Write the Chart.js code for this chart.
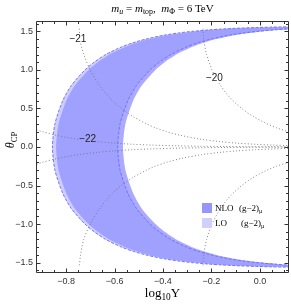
<!DOCTYPE html>
<html><head><meta charset="utf-8">
<script src="https://cdn.jsdelivr.net/npm/chart.js@4.4.1/dist/chart.umd.min.js"></script>
<style>
html,body{margin:0;padding:0;background:#fff;}
#wrap{position:relative;width:291px;height:304px;overflow:hidden;}
canvas{position:absolute;left:0;top:0;}
.t{position:absolute;font-family:'Liberation Serif','DejaVu Serif',serif;color:#000;white-space:nowrap;line-height:1;}
.s{font-size:72%;position:relative;top:0.3em;}
.sw{position:absolute;width:10px;height:10px;}
</style></head><body>
<div id="wrap">
<canvas id="c" width="291" height="304"></canvas>
<div class="t" style="left:36px;width:253px;top:3px;text-align:center;font-size:11px;"><i>m</i><span class="s"><i>u</i></span> = <i>m</i><span class="s">top</span>,&nbsp; <i>m</i><span class="s">Φ</span> = 6 TeV</div>
<div class="t" style="left:36px;width:253px;top:286px;text-align:center;font-size:13px;">log<span class="s">10</span>Y</div>
<div class="t" style="left:-10px;width:40px;top:134px;text-align:center;font-size:12px;transform:rotate(-90deg);"><i>θ</i><span class="s">CP</span></div>
<div class="sw" style="left:202px;top:203px;background:rgb(150,150,250);"></div>
<div class="t" style="left:215px;top:204px;font-size:9px;">NLO</div>
<div class="t" style="left:239px;top:204px;font-size:9px;">(g−2)<span class="s">μ</span></div>
<div class="sw" style="left:202px;top:218px;background:rgb(208,208,255);"></div>
<div class="t" style="left:215px;top:219px;font-size:9px;">LO</div>
<div class="t" style="left:241px;top:219px;font-size:9px;">(g−2)<span class="s">μ</span></div>
</div>
<script>
// ---- data (log10 Y on x, theta_CP on y) ----
const thetaBand = [1.56,1.555,1.55,1.54,1.53,1.52,1.5,1.48,1.45,1.4,1.35,1.3,1.2,1.1,1.0,0.8,0.6,0.3,0,-0.3,-0.6,-0.8,-1.0,-1.1,-1.2,-1.3,-1.35,-1.4,-1.45,-1.48,-1.5,-1.52,-1.53,-1.54,-1.55,-1.555,-1.56];
const nloOuter = [0.142,0.060,0.000,-0.085,-0.146,-0.194,-0.266,-0.320,-0.382,-0.456,-0.511,-0.555,-0.621,-0.669,-0.707,-0.763,-0.799,-0.831,-0.841,-0.831,-0.799,-0.763,-0.707,-0.669,-0.621,-0.555,-0.511,-0.456,-0.382,-0.320,-0.266,-0.194,-0.146,-0.085,0.000,0.060,0.142];
const nloInner = [0.418,0.336,0.276,0.191,0.130,0.082,0.010,-0.044,-0.106,-0.180,-0.235,-0.279,-0.345,-0.393,-0.431,-0.487,-0.523,-0.555,-0.565,-0.555,-0.523,-0.487,-0.431,-0.393,-0.345,-0.279,-0.235,-0.180,-0.106,-0.044,0.010,0.082,0.130,0.191,0.276,0.336,0.418];
const loOuter = [0.127,0.045,-0.015,-0.100,-0.161,-0.209,-0.281,-0.335,-0.397,-0.471,-0.526,-0.570,-0.636,-0.684,-0.722,-0.778,-0.814,-0.846,-0.856,-0.846,-0.814,-0.778,-0.722,-0.684,-0.636,-0.570,-0.526,-0.471,-0.397,-0.335,-0.281,-0.209,-0.161,-0.100,-0.015,0.045,0.127];
const loInner = [0.396,0.314,0.254,0.169,0.108,0.060,-0.012,-0.066,-0.128,-0.202,-0.257,-0.301,-0.367,-0.415,-0.453,-0.509,-0.545,-0.577,-0.587,-0.577,-0.545,-0.509,-0.453,-0.415,-0.367,-0.301,-0.257,-0.202,-0.128,-0.066,-0.012,0.060,0.108,0.169,0.254,0.314,0.396];

// contour lines (null = break for label)
const c21UpTheta = [1.535,1.44,1.39,1.34,1.2,1.0,0.8,0.6,0.5,0.4,0.3,0.25,0.2,0.15,0.1,0.07,0.05,0.035,0.025,0.018];
const c21UpLogY  = [-0.745,-0.744,null,-0.740,-0.727,-0.700,-0.662,-0.608,-0.571,-0.526,-0.468,-0.432,-0.386,-0.326,-0.242,-0.165,-0.094,-0.017,0.056,0.127];
const c21LoTheta = [-1.535,-1.4,-1.2,-1.0,-0.8,-0.6,-0.5,-0.4,-0.3,-0.25,-0.2,-0.15,-0.1,-0.07,-0.05,-0.035,-0.025,-0.018];
const c21LoLogY  = [-0.745,-0.740,-0.727,-0.700,-0.662,-0.608,-0.571,-0.526,-0.468,-0.432,-0.386,-0.326,-0.242,-0.165,-0.094,-0.017,0.056,0.127];
const c22UpTheta = [0.25,0.2,0.15,0.12,0.0956,0.085,0.0724,0.05,0.035,0.025,0.015,0.01,0.006,0.004,0.0025,0.0018];
const c22UpLogY  = [-0.947,-0.899,-0.837,-0.789,-0.740,null,-0.680,-0.599,-0.522,-0.449,-0.338,-0.250,-0.139,-0.051,0.051,0.122];
const c22LoTheta = [-0.25,-0.2,-0.15,-0.12,-0.1,-0.07,-0.05,-0.035,-0.025,-0.015,-0.01,-0.006,-0.004,-0.0025,-0.0018];
const c22LoLogY  = [-0.947,-0.899,-0.837,-0.789,-0.750,-0.672,-0.599,-0.522,-0.449,-0.338,-0.250,-0.139,-0.051,0.051,0.122];
const c20UpTheta = [1.535,1.4,1.2,1.0,0.96,0.9,0.83,0.7,0.6,0.5,0.4,0.3,0.25,0.2,0.19];
const c20UpLogY  = [-0.235,-0.232,-0.220,-0.198,-0.192,null,-0.169,-0.140,-0.111,-0.075,-0.030,0.030,0.068,0.116,0.127];
const c20LoTheta = [-1.535,-1.4,-1.2,-1.0,-0.8,-0.7,-0.6,-0.5,-0.4,-0.3,-0.25,-0.2,-0.19];
const c20LoLogY  = [-0.235,-0.232,-0.220,-0.198,-0.163,-0.140,-0.111,-0.075,-0.030,0.030,0.068,0.116,0.127];

const contourLabels = ['−21','−22','−20'];
const contourLabelLogY = [-0.751,-0.711,-0.188];
const contourLabelTheta = [1.393,0.106,0.896];

const xMajor = [-0.8,-0.6,-0.4,-0.2,0.0];
const xMinor = [-0.9,-0.85,-0.75,-0.7,-0.65,-0.55,-0.5,-0.45,-0.35,-0.3,-0.25,-0.15,-0.1,-0.05,0.05,0.1];
const yMajor = [-1.5,-1.0,-0.5,0.0,0.5,1.0,1.5];
const yMinor = [-1.6,-1.4,-1.3,-1.2,-1.1,-0.9,-0.8,-0.7,-0.6,-0.4,-0.3,-0.2,-0.1,0.1,0.2,0.3,0.4,0.6,0.7,0.8,0.9,1.1,1.2,1.3,1.4,1.6];

// ---- build ----
function pts(xs, ys){ return xs.map((x,i)=>({x: x, y: ys[i]})); }
function polygon(outer, inner){ return pts(outer, thetaBand).concat(pts(inner, thetaBand).reverse()); }
const fmt = v => (Math.abs(v) < 1e-9 ? '0.0' : v.toFixed(1).replace('-', '−'));

const dotted = {showLine:true, fill:false, borderColor:'rgba(120,120,120,0.9)', borderWidth:1, borderDash:[1,2.2], pointRadius:0, tension:0.3, spanGaps:false, order:1};

const frameTicks = {
  id:'frameTicks',
  afterDraw(chart){
    const {ctx, chartArea:a, scales:{x, y}} = chart;
    ctx.save();
    ctx.strokeStyle = '#333'; ctx.lineWidth = 1;
    ctx.beginPath();
    const L = a.left + 0.5, R = a.right - 0.5, T = a.top + 0.5, B = a.bottom - 0.5;
    ctx.rect(L, T, R - L, B - T);
    const vt = (vals, len) => vals.forEach(v => { const p = Math.round(x.getPixelForValue(v)) + 0.5; ctx.moveTo(p, B); ctx.lineTo(p, B - len); ctx.moveTo(p, T); ctx.lineTo(p, T + len); });
    const ht = (vals, len) => vals.forEach(v => { const p = Math.round(y.getPixelForValue(v)) + 0.5; ctx.moveTo(L, p); ctx.lineTo(L + len, p); ctx.moveTo(R, p); ctx.lineTo(R - len, p); });
    vt(xMajor, 4); vt(xMinor, 2.5); ht(yMajor, 4); ht(yMinor, 2.5);
    ctx.stroke();
    ctx.restore();
  }
};
const contourText = {
  id:'contourText',
  afterDatasetsDraw(chart){
    const {ctx, scales:{x, y}} = chart;
    ctx.save();
    ctx.font = '10px "Liberation Sans", Arial, sans-serif';
    ctx.fillStyle = '#222'; ctx.textAlign = 'center'; ctx.textBaseline = 'middle';
    contourLabels.forEach((t,i) => ctx.fillText(t, x.getPixelForValue(contourLabelLogY[i]), y.getPixelForValue(contourLabelTheta[i])));
    ctx.restore();
  }
};

Chart.defaults.font.family = '"Liberation Sans", Arial, sans-serif';
new Chart(document.getElementById('c'), {
  type:'scatter',
  data:{datasets:[
    {label:'LO', data: polygon(loOuter, loInner), showLine:true, fill:'shape', backgroundColor:'rgb(205,205,255)', borderColor:'rgba(0,0,0,0)', borderWidth:0, pointRadius:0, tension:0.25, order:6},
    {label:'NLO', data: polygon(nloOuter, nloInner), showLine:true, fill:'shape', backgroundColor:'rgba(149,149,255,0.8)', borderColor:'rgba(0,0,0,0)', borderWidth:0, pointRadius:0, tension:0.25, order:5},
    {label:'LO edge', data: polygon(loOuter, loInner), showLine:true, fill:false, backgroundColor:'rgba(0,0,0,0)', borderColor:'rgba(110,110,255,0.95)', borderWidth:1, borderDash:[3,1.6], pointRadius:0, tension:0.25, order:4},
    Object.assign({label:'-21a', data: pts(c21UpLogY, c21UpTheta)}, dotted),
    Object.assign({label:'-21b', data: pts(c21LoLogY, c21LoTheta)}, dotted),
    Object.assign({label:'-22a', data: pts(c22UpLogY, c22UpTheta)}, dotted),
    Object.assign({label:'-22b', data: pts(c22LoLogY, c22LoTheta)}, dotted),
    Object.assign({label:'-20a', data: pts(c20UpLogY, c20UpTheta)}, dotted),
    Object.assign({label:'-20b', data: pts(c20LoLogY, c20LoTheta)}, dotted)
  ]},
  options:{
    responsive:false, animation:false, devicePixelRatio:1,
    layout:{padding:{left:0, right:2, top:21, bottom:0}},
    plugins:{legend:{display:false}, tooltip:{enabled:false}},
    scales:{
      x:{type:'linear', min:-0.924, max:0.12,
        afterFit(s){ s.height = 31; },
        afterBuildTicks(s){ s.ticks = xMajor.map(v => ({value:v})); },
        grid:{display:false, drawTicks:false}, border:{display:false},
        ticks:{padding:3, color:'#333', font:{size:9}, callback:fmt, maxRotation:0, autoSkip:false}},
      y:{type:'linear', min:-1.635, max:1.635,
        afterFit(s){ s.width = 36; },
        afterBuildTicks(s){ s.ticks = yMajor.map(v => ({value:v})); },
        grid:{display:false, drawTicks:false}, border:{display:false},
        ticks:{padding:3, color:'#333', font:{size:9}, callback:fmt, autoSkip:false}}
    }
  },
  plugins:[frameTicks, contourText]
});
</script>
</body></html>
